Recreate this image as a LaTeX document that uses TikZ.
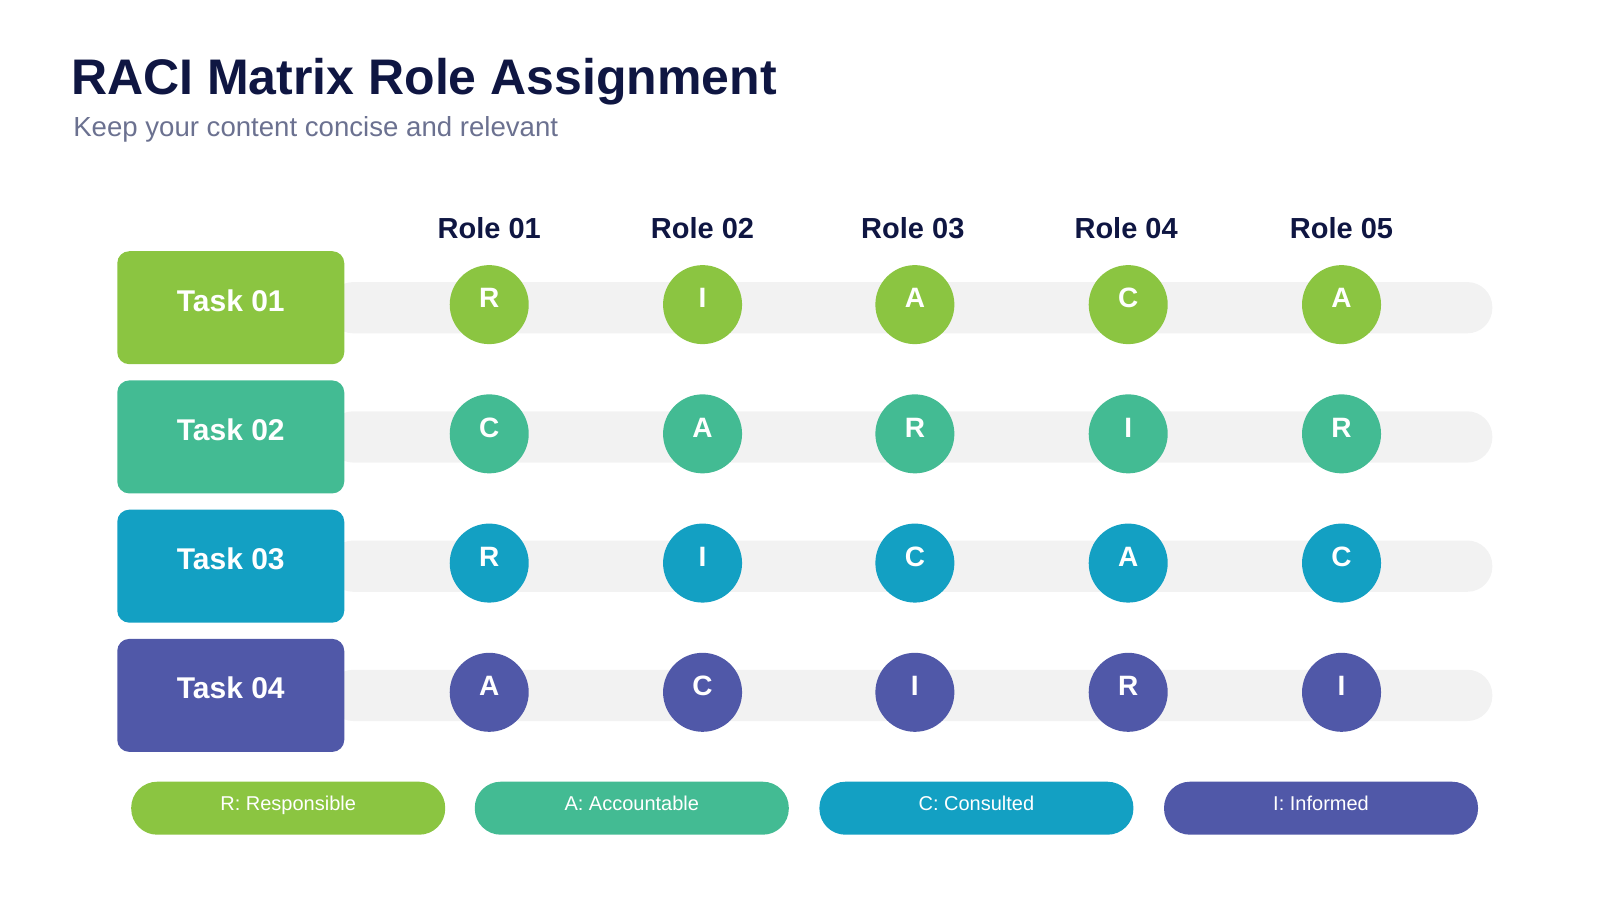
\documentclass[tikz,border=0pt]{standalone}
\usepackage{fontspec}
\setmainfont{Liberation Sans}
\usetikzlibrary{positioning}
\definecolor{navy}{HTML}{0F1642}
\definecolor{subgray}{HTML}{6B7190}
\definecolor{barbg}{HTML}{F2F2F2}
\definecolor{cR}{HTML}{8BC541}
\definecolor{cA}{HTML}{43BB93}
\definecolor{cC}{HTML}{13A0C3}
\definecolor{cI}{HTML}{5058A8}
\begin{document}
\begin{tikzpicture}[x=1.0256pt,y=-1.0256pt,
  task/.style={rounded corners=12pt,minimum width=227pt,minimum height=113pt,text=white,text height=0.72em,text depth=0.05em,font=\fontsize{30}{30}\selectfont\bfseries},
  dot/.style={circle,minimum size=79pt,inner sep=0pt,text=white,text height=0.72em,text depth=0.05em,font=\fontsize{28}{28}\selectfont\bfseries},
  role/.style={text=navy,font=\fontsize{29}{29}\selectfont\bfseries},
  key/.style={rounded corners=26pt,minimum width=314pt,minimum height=53pt,text=white,text height=0.72em,text depth=0.2em,font=\fontsize{20}{20}\selectfont}]
  \useasboundingbox (0,0) rectangle (1560,877.5);
  \node[anchor=base west,text=navy,font=\fontsize{50}{50}\selectfont\bfseries] (title) at (66,92) {RACI Matrix Role Assignment};
  \node[anchor=base west,text=subgray,font=\fontsize{27.6}{28}\selectfont] (sub) at (68,133) {Keep your content concise and relevant};
  % roles
  \foreach \x [count=\i] in {477,685,890,1098,1308}
    \node[role] (role\i) at (\x,222) {Role 0\i};
  % rows
  \foreach \y/\c/\t/\l in {300/cR/1/{R,I,A,C,A},426/cA/2/{C,A,R,I,R},552/cC/3/{R,I,C,A,C},678/cI/4/{A,C,I,R,I}}{
    \fill[barbg,rounded corners=25pt] (320,\y-25) rectangle (1455,\y+25);
    \node[task,fill=\c] (task\t) at (225,\y) {Task 0\t};
    \foreach \v [count=\j] in \l {
      \pgfmathsetmacro{\xx}{{477,685,892,1100,1308}[\j-1]}
      \node[dot,fill=\c] (m\t\j) at (\xx,\y-3) {\v};
    }
  }
  % legend
  \node[key,fill=cR] (keyR) at (281,788) {R: Responsible};
  \node[key,fill=cA] (keyA) at (616,788) {A: Accountable};
  \node[key,fill=cC] (keyC) at (952,788) {C: Consulted};
  \node[key,fill=cI] (keyI) at (1288,788) {I: Informed};
\end{tikzpicture}
\end{document}
